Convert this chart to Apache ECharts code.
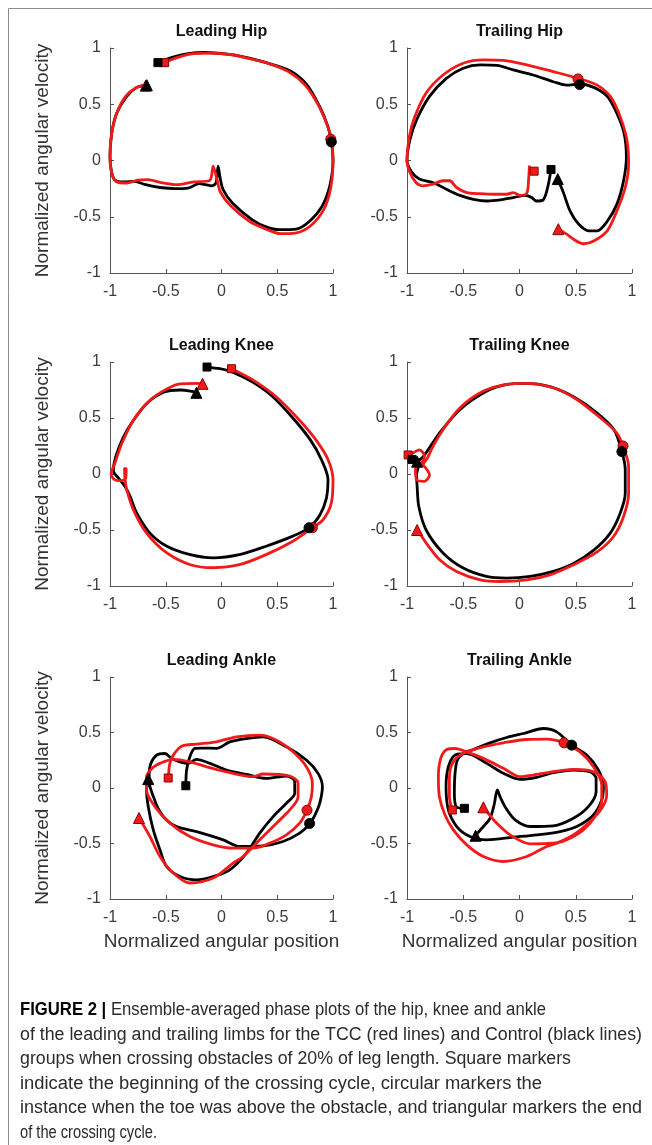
<!DOCTYPE html>
<html>
<head>
<meta charset="utf-8">
<script src="https://cdn.jsdelivr.net/npm/echarts@6/dist/echarts.min.js"></script>
<style>
html, body { margin: 0; padding: 0; background: #fff; }
#main { width: 652px; height: 1145px; }
</style>
</head>
<body>
<div id="main"></div>
<script>
// Leading Hip
var lhipCtrl = [[-0.57,0.87],[-0.45,0.915],[-0.3,0.95],[-0.15,0.96],[0.05,0.945],[0.25,0.91],[0.4,0.87],[0.61,0.8],[0.76,0.68],[0.88,0.48],[0.955,0.3],[0.985,0.17],[1.0,0.0],[0.97,-0.23],[0.9,-0.41],[0.79,-0.54],[0.67,-0.61],[0.52,-0.615],[0.4,-0.59],[0.28,-0.53],[0.1,-0.38],[0.015,-0.26],[-0.015,-0.14],[-0.03,-0.05],[-0.05,-0.2],[-0.09,-0.225],[-0.14,-0.215],[-0.2,-0.205],[-0.3,-0.245],[-0.42,-0.25],[-0.55,-0.24],[-0.68,-0.215],[-0.78,-0.185],[-0.88,-0.19],[-0.96,-0.17],[-0.99,-0.08],[-1.0,0.04],[-0.985,0.24],[-0.94,0.42],[-0.85,0.57],[-0.76,0.65],[-0.67,0.67]];
var lhipTcc = [[-0.51,0.87],[-0.4,0.915],[-0.25,0.95],[-0.1,0.955],[0.1,0.94],[0.25,0.905],[0.4,0.87],[0.6,0.79],[0.75,0.67],[0.87,0.49],[0.95,0.31],[0.985,0.19],[1.0,0.0],[0.98,-0.24],[0.92,-0.43],[0.8,-0.58],[0.66,-0.645],[0.53,-0.65],[0.4,-0.61],[0.25,-0.54],[0.08,-0.4],[-0.01,-0.28],[-0.04,-0.17],[-0.075,-0.05],[-0.09,-0.14],[-0.11,-0.18],[-0.25,-0.19],[-0.4,-0.215],[-0.55,-0.195],[-0.66,-0.17],[-0.75,-0.175],[-0.85,-0.2],[-0.94,-0.19],[-0.985,-0.11],[-1.0,0.04],[-0.985,0.24],[-0.94,0.42],[-0.86,0.57],[-0.77,0.645],[-0.69,0.665]];
var lhipCtrlMarks = [[-0.57,0.87],[0.985,0.165],[-0.67,0.67]];
var lhipTccMarks = [[-0.51,0.87],[0.98,0.19],[-0.68,0.665]];

// Trailing Hip
var thipCtrl = [[0.28,-0.08],[0.25,-0.24],[0.21,-0.35],[0.15,-0.36],[0.11,-0.33],[0.05,-0.31],[-0.055,-0.33],[-0.17,-0.35],[-0.29,-0.36],[-0.41,-0.345],[-0.53,-0.31],[-0.65,-0.255],[-0.77,-0.195],[-0.89,-0.165],[-0.96,-0.1],[-1.0,0.0],[-0.975,0.18],[-0.915,0.36],[-0.8,0.57],[-0.65,0.73],[-0.5,0.82],[-0.35,0.85],[-0.2,0.845],[-0.055,0.805],[0.12,0.76],[0.3,0.7],[0.42,0.67],[0.53,0.68],[0.66,0.65],[0.78,0.57],[0.865,0.42],[0.93,0.24],[0.95,0.03],[0.925,-0.18],[0.865,-0.39],[0.78,-0.54],[0.69,-0.625],[0.615,-0.625],[0.525,-0.565],[0.45,-0.45],[0.39,-0.285],[0.34,-0.165]];
var thipTcc = [[0.088,-0.045],[0.08,-0.18],[0.065,-0.29],[0.005,-0.31],[-0.055,-0.285],[-0.115,-0.3],[-0.23,-0.3],[-0.35,-0.295],[-0.47,-0.285],[-0.56,-0.24],[-0.62,-0.18],[-0.68,-0.18],[-0.77,-0.21],[-0.86,-0.225],[-0.92,-0.195],[-0.975,-0.105],[-1.0,0.0],[-0.98,0.21],[-0.93,0.39],[-0.83,0.6],[-0.68,0.76],[-0.5,0.865],[-0.32,0.895],[-0.145,0.89],[0.065,0.85],[0.3,0.79],[0.52,0.73],[0.69,0.67],[0.81,0.565],[0.895,0.39],[0.955,0.18],[0.97,-0.03],[0.94,-0.24],[0.865,-0.45],[0.78,-0.625],[0.66,-0.715],[0.57,-0.74],[0.48,-0.7],[0.42,-0.655],[0.345,-0.61]];
var thipCtrlMarks = [[0.28,-0.08],[0.535,0.675],[0.34,-0.165]];
var thipTccMarks = [[0.13,-0.095],[0.52,0.725],[0.345,-0.61]];

// Leading Knee
var lkneeCtrl = [[-0.13,0.955],[-0.015,0.94],[0.1,0.91],[0.28,0.82],[0.46,0.69],[0.64,0.5],[0.8,0.3],[0.9,0.12],[0.955,-0.05],[0.94,-0.22],[0.88,-0.37],[0.785,-0.48],[0.64,-0.555],[0.4,-0.645],[0.16,-0.72],[-0.075,-0.748],[-0.28,-0.72],[-0.49,-0.645],[-0.64,-0.53],[-0.76,-0.35],[-0.82,-0.2],[-0.86,-0.12],[-0.92,-0.04],[-0.97,0.03],[-0.95,0.15],[-0.88,0.33],[-0.79,0.48],[-0.67,0.63],[-0.52,0.73],[-0.37,0.75],[-0.28,0.74],[-0.22,0.725]];
var lkneeTcc = [[0.09,0.94],[0.28,0.84],[0.49,0.69],[0.7,0.48],[0.85,0.3],[0.955,0.13],[1.0,-0.05],[0.985,-0.26],[0.91,-0.41],[0.815,-0.48],[0.64,-0.6],[0.4,-0.72],[0.16,-0.81],[-0.075,-0.837],[-0.28,-0.81],[-0.49,-0.705],[-0.67,-0.53],[-0.79,-0.32],[-0.85,-0.14],[-0.865,-0.05],[-0.87,0.05],[-0.855,0.045],[-0.86,-0.04],[-0.9,-0.06],[-0.96,-0.05],[-0.99,0.0],[-0.955,0.1],[-0.895,0.27],[-0.79,0.48],[-0.64,0.66],[-0.49,0.76],[-0.37,0.805],[-0.22,0.81],[-0.17,0.805]];
var lkneeCtrlMarks = [[-0.13,0.955],[0.785,-0.48],[-0.225,0.725]];
var lkneeTccMarks = [[0.09,0.94],[0.815,-0.48],[-0.17,0.805]];

// Trailing Knee
var tkneeCtrl = [[-0.955,0.13],[-0.91,0.12],[-0.86,0.15],[-0.81,0.22],[-0.75,0.31],[-0.7,0.38],[-0.53,0.575],[-0.29,0.74],[-0.11,0.8],[0.065,0.81],[0.27,0.78],[0.48,0.69],[0.69,0.545],[0.84,0.395],[0.91,0.2],[0.94,0.04],[0.94,-0.17],[0.895,-0.35],[0.805,-0.53],[0.66,-0.68],[0.48,-0.8],[0.3,-0.87],[0.095,-0.915],[-0.115,-0.93],[-0.295,-0.915],[-0.5,-0.84],[-0.68,-0.705],[-0.83,-0.5],[-0.895,-0.29],[-0.91,-0.11],[-0.915,-0.01],[-0.9,0.06],[-0.89,0.09]];
var tkneeTcc = [[-0.99,0.17],[-0.945,0.19],[-0.89,0.215],[-0.845,0.16],[-0.87,0.1],[-0.925,0.04],[-0.915,-0.05],[-0.845,-0.065],[-0.8,-0.01],[-0.83,0.05],[-0.855,0.08],[-0.82,0.14],[-0.77,0.245],[-0.68,0.395],[-0.53,0.59],[-0.32,0.74],[-0.115,0.8],[0.065,0.81],[0.3,0.77],[0.51,0.665],[0.72,0.5],[0.865,0.365],[0.92,0.25],[0.97,0.065],[0.97,-0.17],[0.925,-0.38],[0.835,-0.56],[0.69,-0.695],[0.48,-0.81],[0.27,-0.9],[0.065,-0.945],[-0.175,-0.96],[-0.35,-0.945],[-0.56,-0.87],[-0.71,-0.765],[-0.83,-0.615],[-0.89,-0.525],[-0.91,-0.5]];
var tkneeCtrlMarks = [[-0.955,0.13],[0.91,0.2],[-0.91,0.11]];
var tkneeTccMarks = [[-0.99,0.17],[0.92,0.25],[-0.91,-0.5]];

// Leading Ankle
var lankCtrl = [[-0.32,0.02],[-0.313,0.162],[-0.284,0.281],[-0.24,0.357],[-0.18,0.36],[-0.045,0.357],[0.075,0.416],[0.224,0.446],[0.373,0.461],[0.582,0.371],[0.761,0.252],[0.866,0.132],[0.905,0.012],[0.881,-0.137],[0.84,-0.24],[0.791,-0.323],[0.701,-0.407],[0.552,-0.482],[0.373,-0.521],[0.164,-0.527],[0.015,-0.467],[-0.224,-0.393],[-0.403,-0.348],[-0.493,-0.288],[-0.56,-0.2],[-0.61,-0.08],[-0.65,0.06],[-0.642,0.191],[-0.582,0.296],[-0.507,0.311],[-0.448,0.267],[-0.373,0.236],[-0.299,0.222],[-0.224,0.258],[-0.104,0.222],[0.045,0.162],[0.224,0.123],[0.403,0.087],[0.582,0.108],[0.657,0.057],[0.657,-0.048],[0.582,-0.137],[0.463,-0.258],[0.343,-0.407],[0.224,-0.587],[0.075,-0.737],[-0.075,-0.797],[-0.224,-0.827],[-0.373,-0.797],[-0.493,-0.707],[-0.552,-0.557],[-0.612,-0.377],[-0.657,-0.168],[-0.672,-0.018],[-0.657,0.078]];
var lankTcc = [[-0.478,0.087],[-0.463,0.222],[-0.433,0.296],[-0.358,0.377],[-0.224,0.395],[-0.045,0.416],[0.134,0.461],[0.343,0.476],[0.493,0.431],[0.642,0.326],[0.761,0.191],[0.815,0.042],[0.806,-0.078],[0.767,-0.198],[0.701,-0.317],[0.582,-0.422],[0.433,-0.497],[0.284,-0.542],[0.104,-0.542],[-0.075,-0.512],[-0.284,-0.437],[-0.463,-0.317],[-0.597,-0.168],[-0.672,-0.018],[-0.672,0.102],[-0.62,0.18],[-0.552,0.222],[-0.433,0.258],[-0.284,0.236],[-0.134,0.191],[0.045,0.146],[0.284,0.102],[0.373,0.126],[0.612,0.108],[0.687,0.042],[0.687,-0.078],[0.612,-0.198],[0.493,-0.317],[0.343,-0.467],[0.194,-0.617],[0.104,-0.677],[-0.075,-0.811],[-0.284,-0.856],[-0.433,-0.766],[-0.552,-0.617],[-0.642,-0.437],[-0.737,-0.272]];
var lankCtrlMarks = [[-0.32,0.02],[0.79,-0.32],[-0.657,0.08]];
var lankTccMarks = [[-0.478,0.09],[0.767,-0.2],[-0.74,-0.27]];

// Trailing Ankle
var tankCtrl = [[-0.49,-0.183],[-0.558,-0.174],[-0.579,-0.048],[-0.573,0.132],[-0.552,0.252],[-0.499,0.311],[-0.41,0.347],[-0.262,0.407],[-0.114,0.455],[0.035,0.491],[0.212,0.536],[0.331,0.506],[0.464,0.386],[0.598,0.297],[0.701,0.162],[0.746,0.012],[0.731,-0.108],[0.657,-0.243],[0.509,-0.347],[0.36,-0.392],[0.153,-0.422],[-0.054,-0.443],[-0.291,-0.467],[-0.44,-0.437],[-0.558,-0.347],[-0.632,-0.198],[-0.653,0.012],[-0.632,0.192],[-0.573,0.296],[-0.469,0.311],[-0.291,0.222],[-0.143,0.132],[0.005,0.078],[0.153,0.096],[0.301,0.138],[0.479,0.162],[0.627,0.147],[0.681,0.087],[0.681,-0.033],[0.612,-0.168],[0.479,-0.273],[0.301,-0.341],[0.094,-0.347],[-0.039,-0.287],[-0.12,-0.183],[-0.173,-0.078],[-0.197,-0.018],[-0.226,-0.153],[-0.262,-0.273],[-0.321,-0.347],[-0.386,-0.422]];
var tankTcc = [[-0.597,-0.198],[-0.623,-0.078],[-0.623,0.102],[-0.588,0.237],[-0.499,0.311],[-0.321,0.371],[-0.143,0.407],[0.064,0.437],[0.242,0.44],[0.396,0.407],[0.538,0.326],[0.657,0.192],[0.731,0.027],[0.731,-0.108],[0.672,-0.258],[0.568,-0.377],[0.42,-0.467],[0.242,-0.527],[0.064,-0.617],[-0.143,-0.662],[-0.321,-0.617],[-0.469,-0.512],[-0.588,-0.377],[-0.662,-0.243],[-0.712,-0.078],[-0.721,0.102],[-0.7,0.267],[-0.647,0.347],[-0.573,0.356],[-0.469,0.326],[-0.321,0.267],[-0.143,0.177],[0.005,0.102],[0.123,0.117],[0.301,0.147],[0.479,0.168],[0.657,0.147],[0.761,0.057],[0.775,-0.063],[0.731,-0.183],[0.627,-0.302],[0.479,-0.422],[0.301,-0.497],[0.094,-0.503],[-0.084,-0.422],[-0.217,-0.302],[-0.291,-0.213],[-0.321,-0.174]];
var tankCtrlMarks = [[-0.49,-0.183],[0.464,0.386],[-0.39,-0.43]];
var tankTccMarks = [[-0.597,-0.198],[0.396,0.407],[-0.321,-0.174]];

var panelTitles = ['Leading Hip', 'Trailing Hip', 'Leading Knee', 'Trailing Knee', 'Leading Ankle', 'Trailing Ankle'];
var ctrlCurves = [lhipCtrl, thipCtrl, lkneeCtrl, tkneeCtrl, lankCtrl, tankCtrl];
var tccCurves = [lhipTcc, thipTcc, lkneeTcc, tkneeTcc, lankTcc, tankTcc];
var ctrlMarks = [lhipCtrlMarks, thipCtrlMarks, lkneeCtrlMarks, tkneeCtrlMarks, lankCtrlMarks, tankCtrlMarks];
var tccMarks = [lhipTccMarks, thipTccMarks, lkneeTccMarks, tkneeTccMarks, lankTccMarks, tankTccMarks];

var yName = 'Normalized angular velocity';
var xName = 'Normalized angular position';

var captionBold = 'FIGURE 2 |';
var captionLines = [
    ' Ensemble-averaged phase plots of the hip, knee and ankle',
    'of the leading and trailing limbs for the TCC (red lines) and Control (black lines)',
    'groups when crossing obstacles of 20% of leg length. Square markers',
    'indicate the beginning of the crossing cycle, circular markers the',
    'instance when the toe was above the obstacle, and triangular markers the end',
    'of the crossing cycle.'
];

// layout of the six plot boxes (px)
var colLeft = [110, 407];
var colWidth = [223, 225];
var rowTop = [48, 362, 677];
var rowHeight = [225, 224, 222];
// right edge of each caption line (px)
var captionEnds = [546, 642, 571, 542, 642, 157];

var FONT = '"Liberation Sans", Arial, sans-serif';
var RED = '#f01a1a';

var myChart = echarts.init(document.getElementById('main'));

var grids = [], xAxes = [], yAxes = [], titles = [], series = [];

function marks(pts, color, border) {
    var syms = ['rect', 'circle', 'triangle'];
    var sizes = [8, 10, 11];
    return pts.map(function (p, k) {
        return {
            value: p,
            symbol: syms[k],
            symbolSize: sizes[k],
            itemStyle: { color: color, borderColor: border, borderWidth: 1, opacity: 1 }
        };
    });
}

for (var i = 0; i < 6; i++) {
    var c = i % 2, r = Math.floor(i / 2);
    grids.push({ left: colLeft[c], top: rowTop[r], width: colWidth[c], height: rowHeight[r] });

    var axisCommon = {
        gridIndex: i,
        type: 'value',
        min: -1,
        max: 1,
        interval: 0.5,
        splitLine: { show: false },
        axisLine: { show: true, onZero: false, lineStyle: { color: '#555', width: 1 } },
        axisTick: { show: true, inside: true, length: 4, lineStyle: { color: '#555' } },
        axisLabel: { color: '#3c3c3c', fontSize: 16, fontFamily: FONT }
    };
    var xa = Object.assign({}, axisCommon, {
        axisLabel: Object.assign({}, axisCommon.axisLabel, { margin: 11 })
    });
    var ya = Object.assign({}, axisCommon, {
        axisLabel: Object.assign({}, axisCommon.axisLabel, { margin: 9 })
    });
    if (r === 2) {
        xa.name = xName;
        xa.nameLocation = 'middle';
        xa.nameGap = 33;
        xa.nameTextStyle = { color: '#333', fontSize: 19, fontFamily: FONT };
    }
    if (c === 0) {
        ya.name = yName;
        ya.nameLocation = 'middle';
        ya.nameGap = 58;
        ya.nameTextStyle = { color: '#333', fontSize: 19, fontFamily: FONT };
    }
    xAxes.push(xa);
    yAxes.push(ya);

    titles.push({
        text: panelTitles[i],
        left: colLeft[c] + colWidth[c] / 2,
        top: rowTop[r] - 24,
        textAlign: 'center',
        padding: 0,
        textStyle: { fontSize: 16, fontWeight: 'bold', color: '#111', fontFamily: FONT }
    });

    series.push({
        type: 'line', xAxisIndex: i, yAxisIndex: i,
        data: ctrlCurves[i], showSymbol: false, smooth: 0.3, clip: false,
        lineStyle: { color: '#000', width: 2.8 }, z: 2
    });
    series.push({
        type: 'line', xAxisIndex: i, yAxisIndex: i,
        data: tccCurves[i], showSymbol: false, smooth: 0.3, clip: false,
        lineStyle: { color: RED, width: 2.8 }, z: 3
    });
    series.push({
        type: 'scatter', xAxisIndex: i, yAxisIndex: i,
        data: marks(tccMarks[i], RED, '#8a0000'), z: 4
    });
    series.push({
        type: 'scatter', xAxisIndex: i, yAxisIndex: i,
        data: marks(ctrlMarks[i], '#000', '#000'), z: 5
    });
}

// caption: the journal face is narrower, so each line is squeezed to its width
var CAP_SIZE = 18;
var ctx = document.createElement('canvas').getContext('2d');
function textWidth(t, bold) {
    ctx.font = (bold ? 'bold ' : '') + CAP_SIZE + 'px ' + FONT;
    return ctx.measureText(t).width;
}

var graphics = [
    { type: 'line', shape: { x1: 8.5, y1: 8.5, x2: 652, y2: 8.5 }, style: { stroke: '#8c8c8c', lineWidth: 1 } },
    { type: 'line', shape: { x1: 8.5, y1: 8.5, x2: 8.5, y2: 1145 }, style: { stroke: '#8c8c8c', lineWidth: 1 } }
];
captionLines.forEach(function (t, k) {
    var w = textWidth(t, false) + (k === 0 ? textWidth(captionBold, true) : 0);
    graphics.push({
        type: 'text',
        x: 20,
        y: 1010 + k * 24.6,
        scaleX: (captionEnds[k] - 20) / w,
        style: {
            text: (k === 0 ? '{b|' + captionBold + '}' : '') + t,
            fill: '#2b2b2b',
            fontSize: CAP_SIZE,
            fontFamily: FONT,
            verticalAlign: 'middle',
            rich: { b: { fontWeight: 'bold', fill: '#000', fontSize: CAP_SIZE, fontFamily: FONT } }
        }
    });
});

var option = {
    backgroundColor: '#fff',
    animation: false,
    title: titles,
    grid: grids,
    xAxis: xAxes,
    yAxis: yAxes,
    series: series,
    graphic: graphics
};
myChart.setOption(option);
</script>
</body>
</html>
